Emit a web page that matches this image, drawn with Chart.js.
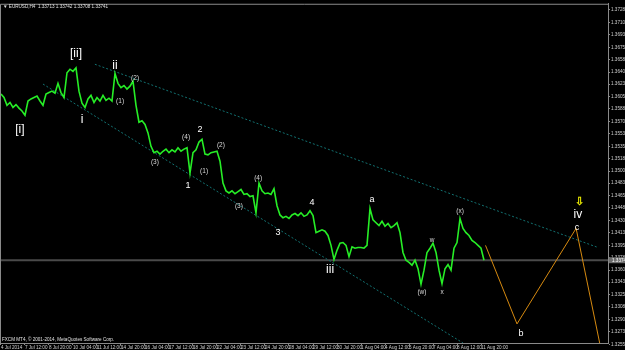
<!DOCTYPE html>
<html>
<head>
<meta charset="utf-8">
<script src="https://cdn.jsdelivr.net/npm/chart.js@4.4.1/dist/chart.umd.min.js"></script>
<style>
  html, body { margin: 0; padding: 0; background: #000; }
  #wrap { width: 625px; height: 350px; position: relative; }
</style>
</head>
<body>
<div id="wrap"><canvas id="eurusdChart"></canvas></div>
<script>
// EURUSD H4 closes, one per bar (bar 0 = 4 Jul 2014 04:00)
const closes = [
  1.3609, 1.3604, 1.3593, 1.3597, 1.3590, 1.3594, 1.3589, 1.3585, 1.3579, 1.3599,
  1.3602, 1.3604, 1.3606, 1.3599, 1.3593, 1.3609, 1.3611, 1.3613, 1.3610, 1.3624,
  1.3611, 1.3604, 1.3639, 1.3644, 1.3641, 1.3646, 1.3613, 1.3596, 1.3590, 1.3602,
  1.3607, 1.3597, 1.3604, 1.3599, 1.3607, 1.3600, 1.3603, 1.3599, 1.3638, 1.3624,
  1.3618, 1.3621, 1.3616, 1.3620, 1.3627, 1.3593, 1.3569, 1.3571, 1.3566, 1.3554,
  1.3535, 1.3526, 1.3528, 1.3524, 1.3528, 1.3531, 1.3526, 1.3530, 1.3527, 1.3533,
  1.3528, 1.3531, 1.3533, 1.3497, 1.3526, 1.3530, 1.3541, 1.3545, 1.3524, 1.3523,
  1.3526, 1.3527, 1.3528, 1.3514, 1.3483, 1.3472, 1.3469, 1.3472, 1.3468, 1.3471,
  1.3474, 1.3467, 1.3468, 1.3464, 1.3465, 1.3441, 1.3483, 1.3472, 1.3468, 1.3469,
  1.3467, 1.3475, 1.3451, 1.3438, 1.3434, 1.3436, 1.3433, 1.3438, 1.3440, 1.3437,
  1.3441, 1.3436, 1.3438, 1.3444, 1.3437, 1.3413, 1.3415, 1.3417, 1.3415, 1.3409,
  1.3395, 1.3375, 1.3388, 1.3398, 1.3399, 1.3395, 1.3379, 1.3393, 1.3391, 1.3392,
  1.3392, 1.3391, 1.3395, 1.3447, 1.3431, 1.3427, 1.3423, 1.3429, 1.3422, 1.3426,
  1.3420, 1.3423, 1.3427, 1.3413, 1.3385, 1.3374, 1.3371, 1.3367, 1.3374, 1.3362,
  1.3340, 1.3360, 1.3385, 1.3391, 1.3398, 1.3385, 1.3360, 1.3341, 1.3362, 1.3368,
  1.3360, 1.3391, 1.3399, 1.3433, 1.3419, 1.3413, 1.3409, 1.3402, 1.3399, 1.3395,
  1.3391, 1.3374
];

const timeLabels = [
  '4 Jul 2014', '7 Jul 12:00', '8 Jul 20:00', '10 Jul 04:00', '11 Jul 12:00',
  '14 Jul 20:00', '16 Jul 04:00', '17 Jul 12:00', '18 Jul 20:00', '22 Jul 04:00',
  '23 Jul 12:00', '24 Jul 20:00', '28 Jul 04:00', '29 Jul 12:00', '30 Jul 20:00',
  '1 Aug 04:00', '4 Aug 12:00', '5 Aug 20:00', '7 Aug 04:00', '8 Aug 12:00',
  '11 Aug 20:00'
];
const barsPerLabel = 8;

const priceTicks = [
  1.3728, 1.3710, 1.3693, 1.3675, 1.3658, 1.3640, 1.3623, 1.3605, 1.3588, 1.3570,
  1.3553, 1.3535, 1.3518, 1.3500, 1.3483, 1.3465, 1.3448, 1.3430, 1.3413, 1.3395,
  1.3378, 1.3360, 1.3343, 1.3325, 1.3308, 1.3290, 1.3273, 1.3255
];
const lastPrice = 1.3374;

// channel lines and projected path (bar index, price)
const upperChannel = [{ x: 31.3, y: 1.3651 }, { x: 199, y: 1.3392 }];
const lowerChannel = [{ x: 14, y: 1.3623 }, { x: 154, y: 1.3257 }];
const projection = [
  { x: 161.5, y: 1.3395 }, { x: 172, y: 1.3284 }, { x: 191.7, y: 1.3419 }, { x: 199.7, y: 1.3254 }
];

// Elliott wave labels (bar index, price)
const waveLabels = [
  { text: '[i]', x: 6.3, y: 1.3559, big: 2 },
  { text: '[ii]', x: 25, y: 1.3666, big: 2 },
  { text: 'i', x: 27, y: 1.3573, big: 2 },
  { text: 'ii', x: 38, y: 1.3649, big: 2 },
  { text: '(1)', x: 39.7, y: 1.3599, big: 0 },
  { text: '(2)', x: 44.7, y: 1.3631, big: 0 },
  { text: '(3)', x: 51.3, y: 1.3513, big: 0 },
  { text: '(4)', x: 61.7, y: 1.3548, big: 0 },
  { text: '2', x: 66.3, y: 1.3559, big: 1 },
  { text: '(2)', x: 73.3, y: 1.3537, big: 0 },
  { text: '(1)', x: 67.7, y: 1.3500, big: 0 },
  { text: '1', x: 62.3, y: 1.3479, big: 1 },
  { text: '(4)', x: 85.7, y: 1.3490, big: 0 },
  { text: '(3)', x: 79.3, y: 1.3451, big: 0 },
  { text: '3', x: 92.3, y: 1.3413, big: 1 },
  { text: '4', x: 103.7, y: 1.3455, big: 1 },
  { text: 'iii', x: 109.7, y: 1.3360, big: 2 },
  { text: 'a', x: 123.7, y: 1.3460, big: 1 },
  { text: 'w', x: 143.7, y: 1.3402, big: 0 },
  { text: '(w)', x: 140.3, y: 1.3329, big: 0 },
  { text: 'x', x: 147, y: 1.3329, big: 0 },
  { text: '(x)', x: 153, y: 1.3443, big: 0 },
  { text: 'b', x: 173.3, y: 1.3270, big: 1 },
  { text: 'c', x: 192, y: 1.3420, big: 1 },
  { text: 'iv', x: 192.3, y: 1.3438, big: 2 }
];
const arrowMark = { text: '\u21E9', x: 192.7, y: 1.3457 };

const FONT = "'Liberation Sans', Arial, sans-serif";

const mt4Overlay = {
  id: 'mt4Overlay',
  beforeDraw(chart) {
    const ctx = chart.ctx;
    ctx.save();
    ctx.fillStyle = '#000';
    ctx.fillRect(0, 0, chart.width, chart.height);
    ctx.restore();
  },
  afterDatasetsDraw(chart) {
    const ctx = chart.ctx;
    const xs = chart.scales.x, ys = chart.scales.y;
    const area = chart.chartArea;
    ctx.save();
    // frame left/top
    ctx.strokeStyle = '#8a8a8a';
    ctx.lineWidth = 1;
    ctx.beginPath();
    ctx.moveTo(area.left + 0.5, area.bottom);
    ctx.lineTo(area.left + 0.5, area.top + 0.5);
    ctx.lineTo(area.right, area.top + 0.5);
    ctx.stroke();

    ctx.textAlign = 'center';
    ctx.textBaseline = 'middle';
    waveLabels.forEach(l => {
      const size = l.big === 2 ? 12 : (l.big === 1 ? 9 : 6.5);
      ctx.font = size + 'px ' + FONT;
      ctx.fillStyle = l.big === 0 ? '#d8d8d8' : '#ffffff';
      ctx.fillText(l.text, xs.getPixelForValue(l.x), ys.getPixelForValue(l.y));
    });
    ctx.font = 'bold 11px ' + FONT;
    ctx.fillStyle = '#e8e800';
    ctx.fillText(arrowMark.text, xs.getPixelForValue(arrowMark.x), ys.getPixelForValue(arrowMark.y));

    // header and copyright
    ctx.textAlign = 'left';
    ctx.font = '4.6px ' + FONT;
    ctx.fillStyle = '#e0e0e0';
    ctx.fillText('\u25BC EURUSD,H4  1.33713 1.33742 1.33708 1.33741', area.left + 3, area.top + 3);
    ctx.fillText('FXCM MT4, \u00A9 2001-2014, MetaQuotes Software Corp.', area.left + 2, area.bottom - 3);

    // current price box on the axis
    const py = ys.getPixelForValue(lastPrice);
    ctx.fillStyle = '#6e6e6e';
    ctx.fillRect(area.right + 1, py - 3, chart.width - area.right - 1, 6);
    ctx.fillStyle = '#ffffff';
    ctx.fillText(lastPrice.toFixed(4), area.right + 4, py + 0.3);
    ctx.restore();
  }
};

const ctx = document.getElementById('eurusdChart').getContext('2d');
new Chart(ctx, {
  type: 'line',
  data: {
    datasets: [
      {
        label: 'EURUSD',
        data: closes.map((c, i) => ({ x: i, y: c })),
        borderColor: '#26ee26',
        borderWidth: 1.6,
        pointRadius: 0,
        tension: 0,
        order: 0
      },
      {
        data: upperChannel,
        borderColor: '#127070',
        borderWidth: 1,
        borderDash: [2, 2],
        pointRadius: 0,
        order: 3
      },
      {
        data: lowerChannel,
        borderColor: '#127070',
        borderWidth: 1,
        borderDash: [2, 2],
        pointRadius: 0,
        order: 3
      },
      {
        data: projection,
        borderColor: '#d68a10',
        borderWidth: 1,
        pointRadius: 0,
        order: 2
      },
      {
        data: [{ x: -1, y: lastPrice }, { x: 204, y: lastPrice }],
        borderColor: '#4a4a4a',
        borderWidth: 2,
        pointRadius: 0,
        order: 5
      }
    ]
  },
  options: {
    responsive: true,
    maintainAspectRatio: false,
    animation: false,
    layout: { padding: { top: 2, left: 0, right: 0, bottom: 0 } },
    plugins: {
      legend: { display: false },
      tooltip: { enabled: false }
    },
    scales: {
      x: {
        type: 'linear',
        min: -0.33,
        max: 202.33,
        afterBuildTicks: scale => {
          scale.ticks = timeLabels.map((t, k) => ({ value: k * barsPerLabel }));
        },
        afterFit: scale => { scale.height = 7; },
        ticks: {
          autoSkip: false,
          maxRotation: 0,
          align: 'start',
          padding: 0,
          color: '#d0d0d0',
          font: { family: FONT, size: 4.6 },
          callback: (v, i) => timeLabels[i]
        },
        grid: { display: true, drawOnChartArea: false, tickLength: 2, color: '#8a8a8a' },
        border: { display: true, color: '#8a8a8a' }
      },
      y: {
        position: 'right',
        min: 1.32570,
        max: 1.37365,
        afterBuildTicks: scale => {
          scale.ticks = priceTicks.map(v => ({ value: v }));
        },
        afterFit: scale => { scale.width = 17; },
        ticks: {
          padding: 1,
          color: '#d0d0d0',
          font: { family: FONT, size: 4.6 },
          callback: v => v.toFixed(4)
        },
        grid: { display: true, drawOnChartArea: false, tickLength: 2, color: '#8a8a8a' },
        border: { display: true, color: '#8a8a8a' }
      }
    }
  },
  plugins: [mt4Overlay]
});
</script>
</body>
</html>
